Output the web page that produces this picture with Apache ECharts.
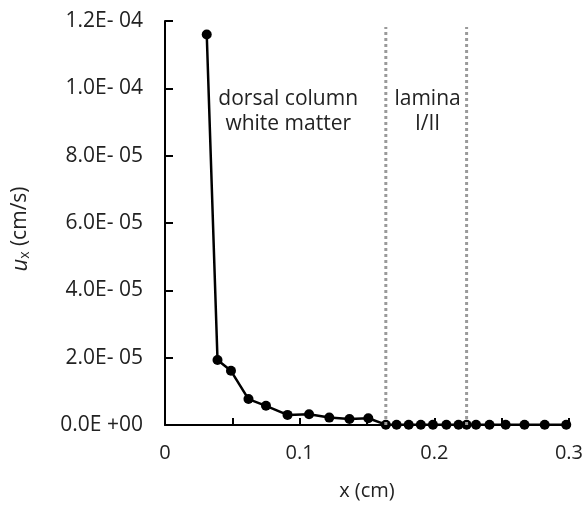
<!DOCTYPE html>
<html>
<head>
<meta charset="utf-8">
<script src="https://cdn.jsdelivr.net/npm/echarts@6/dist/echarts.min.js"></script>
<style>html,body{margin:0;padding:0;background:#fff}#c{width:586px;height:506px}</style>
</head>
<body>
<div id="c"></div>
<script>
const xValues = [0.031, 0.039, 0.049, 0.062, 0.075, 0.091, 0.107, 0.122, 0.137, 0.151, 0.164, 0.172, 0.181, 0.190, 0.199, 0.209, 0.218, 0.224, 0.231, 0.241, 0.253, 0.267, 0.282, 0.298];
const uxValues = [1.16e-4, 1.93e-5, 1.61e-5, 7.7e-6, 5.7e-6, 3.0e-6, 3.2e-6, 2.2e-6, 1.8e-6, 2.0e-6, 1e-7, 1e-7, 1e-7, 1e-7, 1e-7, 1e-7, 1e-7, 1e-7, 1e-7, 1e-7, 1e-7, 1e-7, 1e-7, 1e-7];
const yTickLabels = ["0.0E +00", "2.0E- 05", "4.0E- 05", "6.0E- 05", "8.0E- 05", "1.0E- 04", "1.2E- 04"];
const xTickLabels = ["0", "0.1", "0.2", "0.3"];
const regionBounds = [0.164, 0.224];
const regionLabels = ["dorsal column\nwhite matter", "lamina\nI/II"];
const regionLabelX = [0.0915, 0.195];
const yMax = 1.2e-4;

const FONT = "'Open Sans', sans-serif";
const chart = echarts.init(document.getElementById('c'), null, {renderer: 'canvas'});

const boundSeries = regionBounds.map(b => ({
  type: 'line',
  data: [[b, 0], [b, yMax * 0.985]],
  symbol: 'none', silent: true, z: 3,
  lineStyle: {color: '#9a9a9a', width: 3, type: [3, 3]}
}));

const option = {
  animation: false,
  backgroundColor: '#fff',
  grid: {left: 165, right: 17, top: 21, bottom: 80, containLabel: false},
  xAxis: {
    type: 'value', min: 0, max: 0.3, interval: 0.1,
    name: 'x (cm)', nameLocation: 'middle', nameGap: 56,
    nameTextStyle: {fontFamily: FONT, fontSize: 20, color: '#222'},
    axisLine: {lineStyle: {color: '#000', width: 2}},
    axisTick: {inside: true, length: 7, lineStyle: {color: '#000', width: 2}},
    minorTick: {show: true, splitNumber: 2, length: 7, lineStyle: {color: '#000', width: 2}},
    splitLine: {show: false},
    axisLabel: {
      margin: 18, fontFamily: FONT, fontSize: 20, color: '#222',
      formatter: v => xTickLabels[Math.round(v / 0.1)]
    }
  },
  yAxis: {
    type: 'value', min: 0, max: yMax, interval: 2e-5,
    name: '{i|u}{s|x}{n| (cm/s)}', nameLocation: 'middle', nameGap: 133, nameRotate: 90,
    nameTextStyle: {
      fontFamily: FONT, fontSize: 21, color: '#222', padding: [0, 12, 0, 0],
      rich: {
        i: {fontFamily: FONT, fontSize: 22, fontStyle: 'italic', color: '#222'},
        s: {fontFamily: FONT, fontSize: 14, color: '#222', verticalAlign: 'bottom', padding: [9, 0, 0, 0]},
        n: {fontFamily: FONT, fontSize: 21, color: '#222'}
      }
    },
    axisLine: {show: true, lineStyle: {color: '#000', width: 2}},
    axisTick: {show: true, inside: true, length: 8, lineStyle: {color: '#000', width: 2}},
    splitLine: {show: false},
    axisLabel: {
      margin: 22, fontFamily: FONT, fontSize: 21, color: '#222',
      formatter: v => yTickLabels[Math.round(v / 2e-5)]
    }
  },
  series: [{
    type: 'line',
    data: xValues.map((x, i) => [x, uxValues[i]]),
    symbol: 'circle', symbolSize: 10, z: 2,
    lineStyle: {color: '#000', width: 2.5},
    itemStyle: {color: '#000'}
  }].concat(boundSeries)
};
chart.setOption(option);

const yTop = chart.convertToPixel({gridIndex: 0}, [0, 1.0e-4])[1];
chart.setOption({
  graphic: regionLabels.map((t, i) => {
    const p = chart.convertToPixel({gridIndex: 0}, [regionLabelX[i], 1.0e-4]);
    return {
      type: 'text', x: p[0], y: yTop - 2,
      style: {text: t, fontFamily: FONT, fontSize: 21, lineHeight: 25, fill: '#222', align: 'center', verticalAlign: 'top'}
    };
  })
});
</script>
</body>
</html>
